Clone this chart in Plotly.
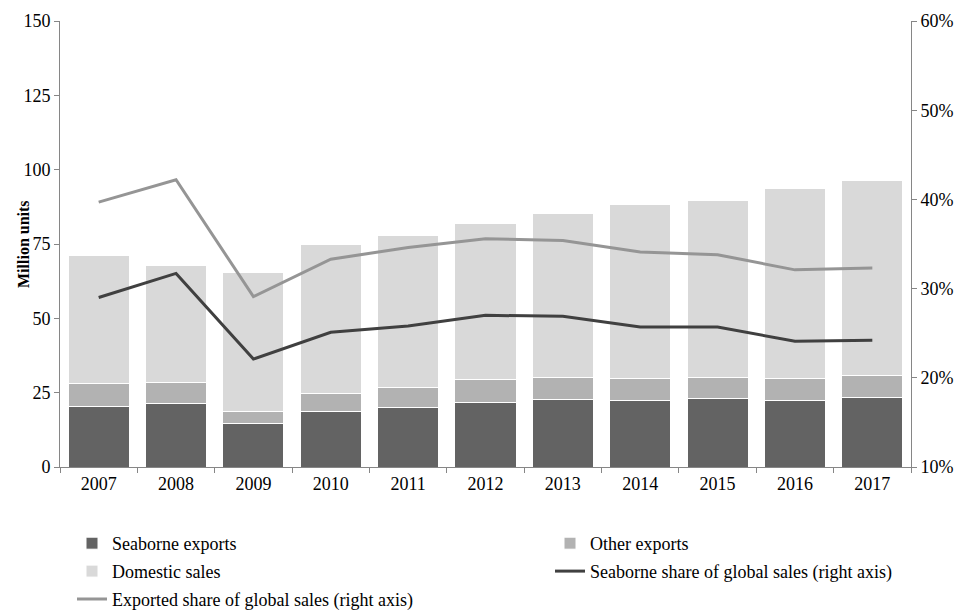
import plotly.graph_objects as go

# Years on the category axis
years = ['2007', '2008', '2009', '2010', '2011', '2012', '2013', '2014', '2015', '2016', '2017']

# Stacked bar values, million units
seaborne_exports = [20.5, 21.4, 14.5, 18.6, 20.1, 21.8, 22.8, 22.5, 22.9, 22.5, 23.3]
other_exports = [7.7, 7.1, 4.3, 6.2, 6.7, 7.5, 7.4, 7.3, 7.3, 7.3, 7.6]
domestic_sales = [43.1, 39.4, 46.6, 49.9, 51.1, 52.5, 55.2, 58.4, 59.3, 63.9, 65.6]

# Shares on the right axis
seaborne_share = [0.290, 0.317, 0.221, 0.251, 0.258, 0.270, 0.269, 0.257, 0.257, 0.241, 0.242]
exported_share = [0.397, 0.422, 0.291, 0.333, 0.346, 0.356, 0.354, 0.341, 0.338, 0.321, 0.323]

font_family = 'Liberation Serif, Times New Roman, serif'
axis_grey = '#868686'

fig = go.Figure()
# left legend column: Seaborne exports, Domestic sales, Exported share
# right legend column: Other exports, Seaborne share
fig.add_trace(go.Bar(x=years, y=seaborne_exports, name='Seaborne exports', legend='legend',
                     legendgroup='a', legendrank=1,
                     marker=dict(color='#636363', line=dict(color='white', width=1))))
fig.add_trace(go.Bar(x=years, y=other_exports, name='Other exports', legend='legend2',
                     legendgroup='b', legendrank=1,
                     marker=dict(color='#b2b2b2', line=dict(color='white', width=1))))
fig.add_trace(go.Bar(x=years, y=domestic_sales, name='Domestic sales', legend='legend',
                     legendgroup='c', legendrank=2,
                     marker=dict(color='#d9d9d9', line=dict(color='white', width=1))))
fig.add_trace(go.Scatter(x=years, y=seaborne_share, name='Seaborne share of global sales (right axis)',
                         mode='lines', yaxis='y2', legend='legend2', legendgroup='d', legendrank=2,
                         line=dict(color='#404040', width=3)))
fig.add_trace(go.Scatter(x=years, y=exported_share, name='Exported share of global sales (right axis)',
                         mode='lines', yaxis='y2', legend='legend', legendgroup='e', legendrank=3,
                         line=dict(color='#959595', width=3)))

legend_style = dict(orientation='v', xref='container', yref='container', xanchor='left',
                    yanchor='top', traceorder='grouped', font=dict(size=18), itemwidth=30,
                    tracegroupgap=1.5, bgcolor='rgba(0,0,0,0)')

fig.update_layout(
    width=955, height=604,
    barmode='stack', bargap=0.21,
    plot_bgcolor='white', paper_bgcolor='white',
    font=dict(family=font_family, size=18, color='black'),
    margin=dict(l=52, r=52, t=13, b=145, autoexpand=False),
    xaxis=dict(showline=True, linecolor=axis_grey, ticks='outside', tickson='boundaries',
               ticklen=5, tickcolor=axis_grey, showgrid=False),
    yaxis=dict(range=[0, 150], dtick=25, showline=True, linecolor=axis_grey, ticks='outside',
               ticklen=5, tickcolor=axis_grey, showgrid=False, zeroline=False),
    yaxis2=dict(range=[0.1, 0.6], dtick=0.1, tickformat='.0%', overlaying='y', side='right',
                showline=True, linecolor=axis_grey, ticks='outside', ticklen=5,
                tickcolor=axis_grey, showgrid=False, zeroline=False),
    legend=dict(x=64 / 955, y=1 - 517 / 604, **legend_style),
    legend2=dict(x=542 / 955, y=1 - 517 / 604, **legend_style),
    annotations=[dict(text='<b>Million units</b>', xref='paper', yref='paper',
                      x=-37 / 851, y=0.5, xanchor='center', yanchor='middle',
                      textangle=-90, showarrow=False, font=dict(size=16))],
)

fig.write_html('out.html')
